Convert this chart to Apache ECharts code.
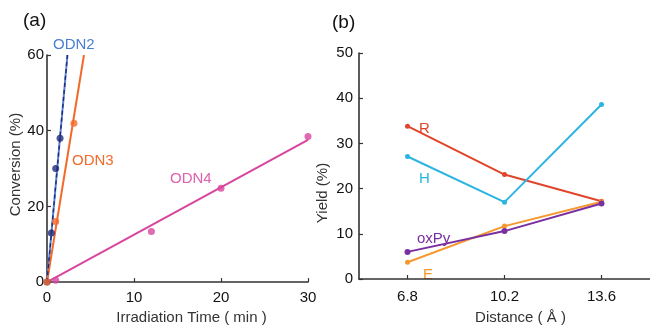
<!DOCTYPE html>
<html><head><meta charset="utf-8">
<script src="https://cdn.jsdelivr.net/npm/echarts@6/dist/echarts.min.js"></script>
<style>html,body{margin:0;padding:0;background:#fff}#c{width:650px;height:330px}</style>
</head><body><div id="c"></div>
<script>
// Panel (a): measured points [time(min), conversion(%)]
const odn2Points = [[0,0],[0.5,13],[1,30],[1.5,38]];
const odn3Points = [[0,0],[1,16],[3.1,42]];
const odn4Points = [[1,0.5],[12,13.4],[20,24.8],[30,38.5]];
// Panel (a): fitted lines (end points)
const odn2Fit = [[0,0],[2.35,60]];
const odn3Fit = [[0,0],[4.25,60]];
const odn4Fit = [[0,0],[30,37.6]];
const xTicksA = [0,10,20,30];
const yTicksA = [0,20,40,60];
// Panel (b)
const distances = ['6.8','10.2','13.6'];
const yieldR = [33.8,23.1,17.2];
const yieldH = [27.1,17.0,38.6];
const yieldOxPy = [6.0,10.6,16.7];
const yieldE = [3.7,11.7,17.1];

const F = 'Liberation Sans, Arial, Helvetica, sans-serif';
const chart = echarts.init(document.getElementById('c'), null, {renderer:'canvas'});
const axisLine = {show:true, lineStyle:{color:'#333', width:1.6}};
const tickIn = {show:true, inside:true, length:4, lineStyle:{color:'#333', width:1.2}};
const lbl = {color:'#111', fontSize:15, fontFamily:F};
const nameStyle = {color:'#333', fontSize:15, fontFamily:F};
chart.setOption({
  animation:false,
  backgroundColor:'#fff',
  grid:[
    {left:47, top:55, width:261, height:232},
    {left:359, top:53, width:296, height:234}
  ],
  xAxis:[
    {gridIndex:0, type:'value', min:xTicksA[0], max:xTicksA[xTicksA.length-1], interval:10,
     axisLine:axisLine, axisTick:tickIn, splitLine:{show:false},
     axisLabel:Object.assign({margin:8}, lbl),
     name:'Irradiation Time ( min )', nameLocation:'middle', nameGap:24,
     nameTextStyle:Object.assign({padding:[0,0,0,28]}, nameStyle)},
    {gridIndex:1, type:'category', data:distances, boundaryGap:true,
     axisLine:axisLine, axisTick:Object.assign({alignWithLabel:true}, tickIn), splitLine:{show:false},
     axisLabel:Object.assign({margin:10}, lbl),
     name:'Distance ( Å )', nameLocation:'middle', nameGap:31,
     nameTextStyle:Object.assign({padding:[0,0,0,32]}, nameStyle)}
  ],
  yAxis:[
    {gridIndex:0, type:'value', min:yTicksA[0], max:yTicksA[yTicksA.length-1], interval:20,
     axisLine:axisLine, axisTick:tickIn, splitLine:{show:false},
     axisLabel:Object.assign({margin:3}, lbl),
     name:'Conversion (%)', nameLocation:'middle', nameGap:21,
     nameTextStyle:Object.assign({padding:[0,0,0,8]}, nameStyle)},
    {gridIndex:1, type:'value', min:0, max:50, interval:10,
     axisLine:axisLine, axisTick:tickIn, splitLine:{show:false},
     axisLabel:Object.assign({margin:6}, lbl),
     name:'Yield (%)', nameLocation:'middle', nameGap:29,
     nameTextStyle:Object.assign({padding:[0,54,0,0]}, nameStyle)}
  ],
  series:[
    {type:'line', xAxisIndex:0, yAxisIndex:0, data:odn2Fit, showSymbol:false, lineStyle:{color:'#5b82d2', width:2}, z:2},
    {type:'line', xAxisIndex:0, yAxisIndex:0, data:odn2Fit, showSymbol:false, lineStyle:{color:'#1f2a7a', width:1.4, type:[4,3]}, z:3},
    {type:'line', xAxisIndex:0, yAxisIndex:0, data:odn3Fit, showSymbol:false, lineStyle:{color:'#f26a2a', width:2}, z:2},
    {type:'line', xAxisIndex:0, yAxisIndex:0, data:odn4Fit, showSymbol:false, lineStyle:{color:'#d8459e', width:2}, z:2},
    {type:'scatter', xAxisIndex:0, yAxisIndex:0, data:odn2Points, symbolSize:7, itemStyle:{color:'#1f2a7a'}, z:4},
    {type:'scatter', xAxisIndex:0, yAxisIndex:0, data:odn3Points, symbolSize:7, itemStyle:{color:'#f26a2a'}, z:5},
    {type:'scatter', xAxisIndex:0, yAxisIndex:0, data:odn4Points, symbolSize:7, itemStyle:{color:'#d8459e'}, z:4},
    {type:'line', xAxisIndex:1, yAxisIndex:1, data:yieldR, symbol:'circle', symbolSize:5, itemStyle:{color:'#e0452c'}, lineStyle:{color:'#e0452c', width:2}},
    {type:'line', xAxisIndex:1, yAxisIndex:1, data:yieldH, symbol:'circle', symbolSize:5, itemStyle:{color:'#2bb5e0'}, lineStyle:{color:'#2bb5e0', width:2}},
    {type:'line', xAxisIndex:1, yAxisIndex:1, data:yieldE, symbol:'circle', symbolSize:5, itemStyle:{color:'#f6982e'}, lineStyle:{color:'#f6982e', width:2}},
    {type:'line', xAxisIndex:1, yAxisIndex:1, data:yieldOxPy, symbol:'circle', symbolSize:6, itemStyle:{color:'#7a2fa0'}, lineStyle:{color:'#7a2fa0', width:2}}
  ],
  graphic:[
    {type:'text', left:23, top:11, style:{text:'(a)', font:'19px '+F, fill:'#111'}},
    {type:'text', left:332, top:13, style:{text:'(b)', font:'19px '+F, fill:'#111'}},
    {type:'text', left:53, top:37, style:{text:'ODN2', font:'15px '+F, fill:'#4a7fd0'}},
    {type:'text', left:72, top:153, style:{text:'ODN3', font:'15px '+F, fill:'#f26a2a'}},
    {type:'text', left:170, top:171, style:{text:'ODN4', font:'15px '+F, fill:'#e060b0'}},
    {type:'text', left:419, top:121, style:{text:'R', font:'15px '+F, fill:'#e0452c'}},
    {type:'text', left:419, top:171, style:{text:'H', font:'15px '+F, fill:'#2bb5e0'}},
    {type:'text', left:417, top:231, style:{text:'oxPy', font:'15px '+F, fill:'#7a2fa0'}},
    {type:'text', left:423, top:267, style:{text:'E', font:'15px '+F, fill:'#f6982e'}}
  ]
});
</script></body></html>
